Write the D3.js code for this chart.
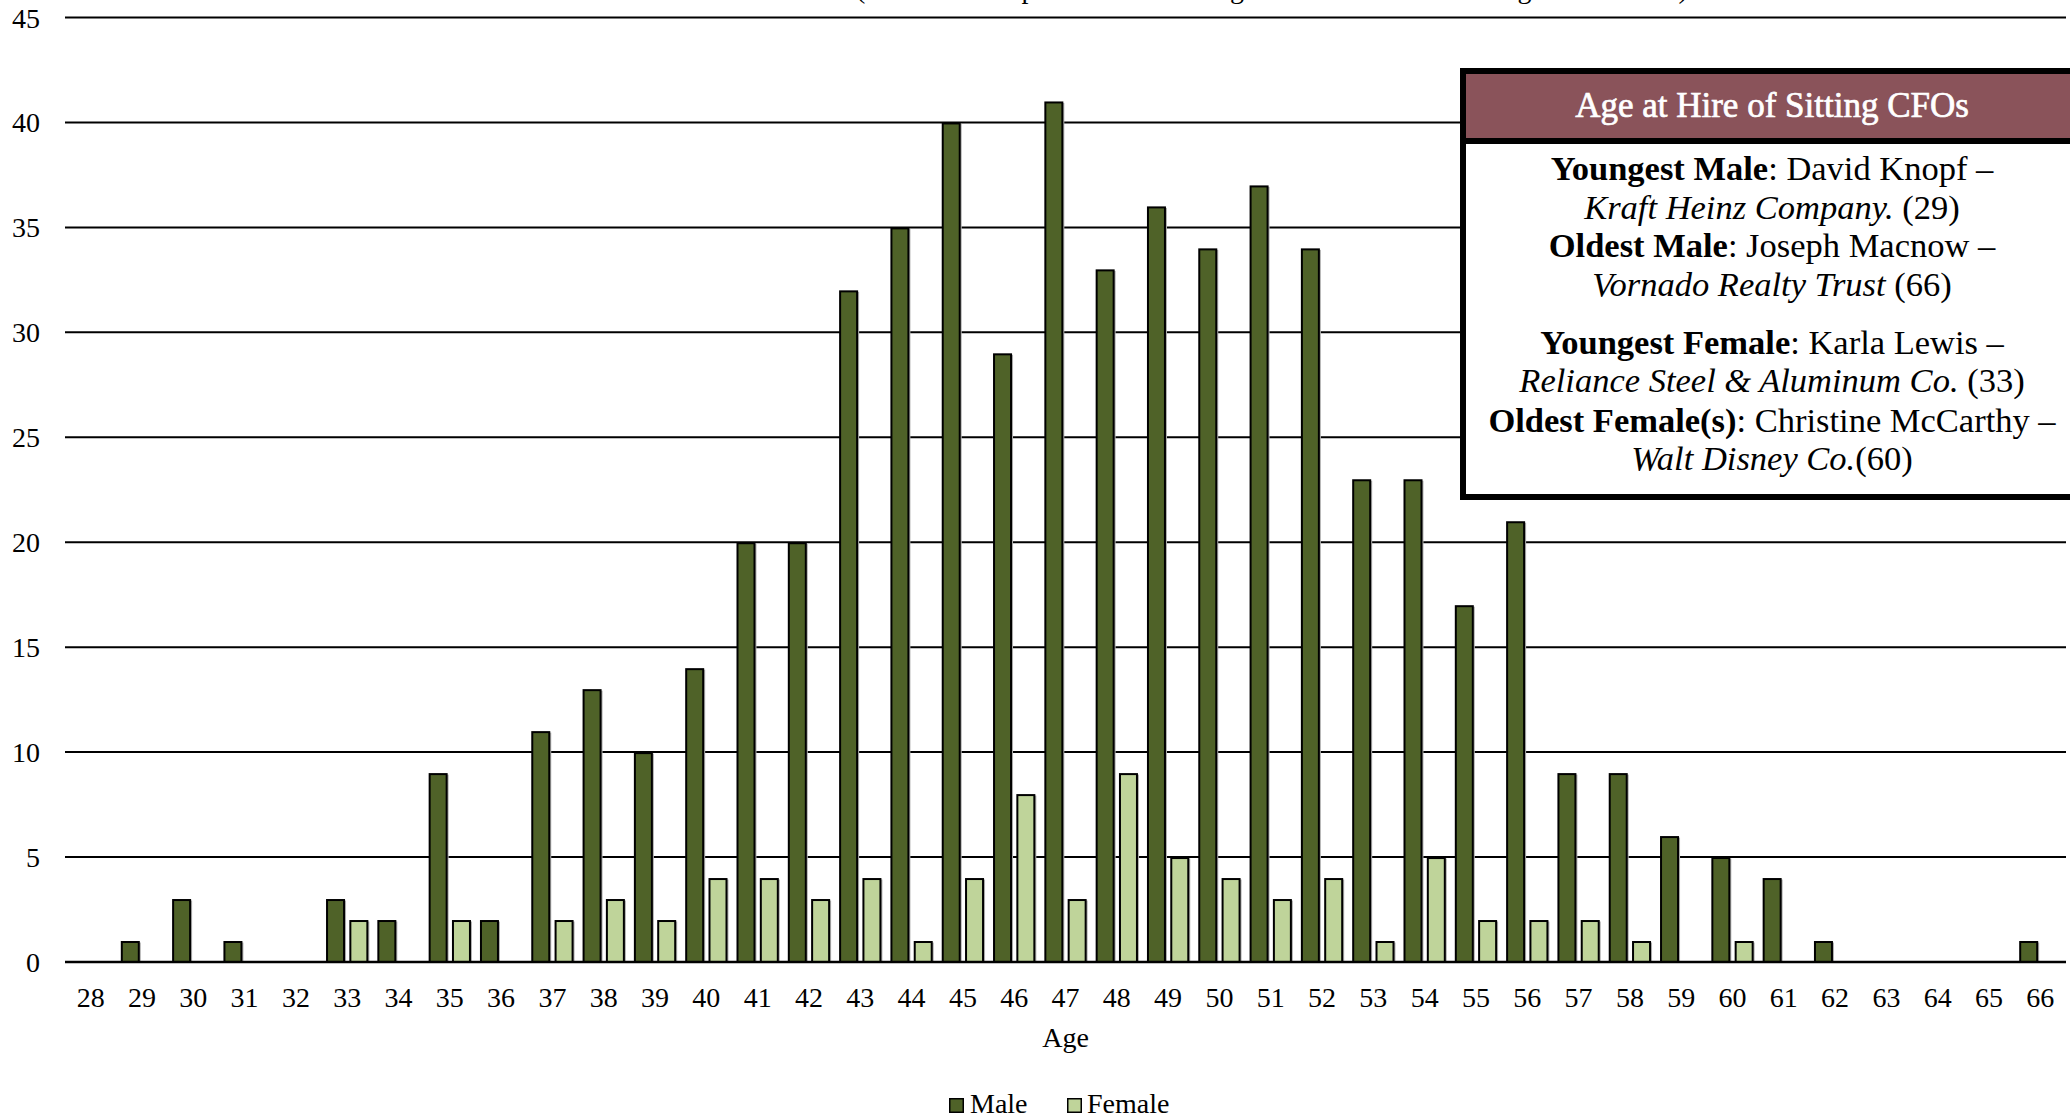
<!DOCTYPE html>
<html>
<head>
<meta charset="utf-8">
<script src="https://cdn.jsdelivr.net/npm/d3@7"></script>
<style>
  body { margin: 0; background: #fff; }
  svg { display: block; }
  text { font-family: "Liberation Serif", "Times New Roman", serif; fill: #000; }
</style>
</head>
<body>
<svg id="chart" width="2070" height="1120"></svg>
<script>
// Age at hire (x categories)
const ages = [28, 29, 30, 31, 32, 33, 34, 35, 36, 37, 38, 39, 40, 41, 42, 43, 44, 45, 46,
              47, 48, 49, 50, 51, 52, 53, 54, 55, 56, 57, 58, 59, 60, 61, 62, 63, 64, 65, 66];

// Number of sitting CFOs hired at each age
const maleCounts   = [0, 1, 3, 1, 0, 3, 2, 9, 2, 11, 13, 10, 14, 20, 20, 32, 35, 40, 29,
                      41, 33, 36, 34, 37, 34, 23, 23, 17, 21, 9, 9, 6, 5, 4, 1, 0, 0, 0, 1];
const femaleCounts = [0, 0, 0, 0, 0, 2, 0, 2, 0, 2, 3, 2, 4, 4, 3, 4, 1, 4, 8,
                      3, 9, 5, 4, 3, 4, 1, 5, 2, 2, 2, 1, 0, 1, 0, 0, 0, 0, 0, 0];

const seriesNames = ["Male", "Female"];
const seriesColors = ["#4f6228", "#bfd49a"];
const yTicks = [0, 5, 10, 15, 20, 25, 30, 35, 40, 45];
const xTitle = "Age";
const subtitle = "(S&P 500 companies. Based on age at the time the CFO began in the role)";

// Call-out box content
const boxTitle = "Age at Hire of Sitting CFOs";
const boxGroups = [
  [
    [{ t: "Youngest Male", b: true }, { t: ": David Knopf –" }],
    [{ t: "Kraft Heinz Company.", i: true }, { t: " (29)" }],
    [{ t: "Oldest Male", b: true }, { t: ": Joseph Macnow –" }],
    [{ t: "Vornado Realty Trust", i: true }, { t: " (66)" }]
  ],
  [
    [{ t: "Youngest Female", b: true }, { t: ": Karla Lewis –" }],
    [{ t: "Reliance Steel & Aluminum Co.", i: true }, { t: " (33)" }],
    [{ t: "Oldest Female(s)", b: true }, { t: ": Christine McCarthy –" }],
    [{ t: "Walt Disney Co.", i: true }, { t: "(60)" }]
  ]
];

const rows = ages.map((a, i) => ({ age: a, Male: maleCounts[i], Female: femaleCounts[i] }));

const svg = d3.select("#chart");
const plot = { left: 65, right: 2066, top: 17.5, bottom: 962 };

const x = d3.scaleBand().domain(ages).range([plot.left, plot.right]).paddingInner(0).paddingOuter(0);
const x1 = d3.scaleBand().domain(seriesNames).range([0, x.bandwidth()])
  .paddingInner(0.185).paddingOuter(0.193);
const y = d3.scaleLinear().domain([0, 45]).range([plot.bottom, plot.top]);
const color = d3.scaleOrdinal().domain(seriesNames).range(seriesColors);

// Horizontal gridlines
svg.append("g")
  .selectAll("line")
  .data(yTicks.filter(t => t !== 0))
  .join("line")
  .attr("x1", plot.left).attr("x2", plot.right)
  .attr("y1", d => y(d)).attr("y2", d => y(d))
  .attr("stroke", "#000").attr("stroke-width", 2);

// Y axis labels
const yAxis = d3.axisLeft(y).tickValues(yTicks).tickSize(0).tickPadding(0);
svg.append("g")
  .attr("transform", "translate(40,0)")
  .call(yAxis)
  .call(g => g.select(".domain").remove())
  .call(g => g.selectAll("text")
    .attr("font-size", 28)
    .attr("font-family", "Liberation Serif, serif")
    .attr("fill", "#000")
    .attr("dy", "0.34em"));

// Bars
const groups = svg.append("g")
  .selectAll("g")
  .data(rows)
  .join("g")
  .attr("transform", d => `translate(${x(d.age)},0)`);

const barData = d => seriesNames.map(k => ({ key: k, value: d[k] })).filter(e => e.value > 0);

groups.selectAll("rect.shadow")
  .data(barData)
  .join("rect")
  .attr("class", "shadow")
  .attr("x", d => x1(d.key) + 2)
  .attr("y", d => y(d.value) + 1.5)
  .attr("width", x1.bandwidth() - 1)
  .attr("height", d => y(0) - y(d.value) - 1.5)
  .attr("fill", "#b0b0b0");

groups.selectAll("rect.bar")
  .data(barData)
  .join("rect")
  .attr("class", "bar")
  .attr("x", d => x1(d.key) + 1)
  .attr("y", d => y(d.value) + 1)
  .attr("width", x1.bandwidth() - 2)
  .attr("height", d => y(0) - y(d.value) - 1)
  .attr("fill", d => color(d.key))
  .attr("stroke", "#000")
  .attr("stroke-width", 2);

// Zero baseline
svg.append("line")
  .attr("x1", plot.left).attr("x2", plot.right)
  .attr("y1", y(0)).attr("y2", y(0))
  .attr("stroke", "#000").attr("stroke-width", 2.5);

// X axis labels
const xAxis = d3.axisBottom(x).tickSize(0).tickPadding(0);
svg.append("g")
  .attr("transform", `translate(0,${y(0)})`)
  .call(xAxis)
  .call(g => g.select(".domain").remove())
  .call(g => g.selectAll("text")
    .attr("font-size", 28)
    .attr("font-family", "Liberation Serif, serif")
    .attr("fill", "#000")
    .attr("dy", 0)
    .attr("y", 45));

// Axis title
svg.append("text")
  .attr("x", (plot.left + plot.right) / 2)
  .attr("y", 1047)
  .attr("text-anchor", "middle")
  .attr("font-size", 28)
  .text(xTitle);

// Subtitle (second title line, mostly above the top of the canvas)
svg.append("text")
  .attr("x", 1272)
  .attr("y", -2.5)
  .attr("text-anchor", "middle")
  .attr("font-size", 28)
  .text(subtitle);

// Legend
const legend = svg.append("g");
const legendItems = [{ key: "Male", sx: 949, tx: 970 }, { key: "Female", sx: 1067, tx: 1087 }];
legend.selectAll("rect")
  .data(legendItems)
  .join("rect")
  .attr("x", d => d.sx + 0.75).attr("y", 1098.75)
  .attr("width", 13.5).attr("height", 13.5)
  .attr("fill", d => color(d.key))
  .attr("stroke", "#000").attr("stroke-width", 1.5);
legend.selectAll("text")
  .data(legendItems)
  .join("text")
  .attr("x", d => d.tx).attr("y", 1113)
  .attr("font-size", 28)
  .text(d => d.key);

// Call-out box
const box = { left: 1463, top: 71, headerBottom: 141, bottom: 497, right: 2090, cx: 1772 };
const boxG = svg.append("g");
boxG.append("rect")
  .attr("x", box.left).attr("y", box.top)
  .attr("width", box.right - box.left).attr("height", box.bottom - box.top)
  .attr("fill", "#fff");
boxG.append("rect")
  .attr("x", box.left).attr("y", box.top)
  .attr("width", box.right - box.left).attr("height", box.headerBottom - box.top)
  .attr("fill", "#8a535a");
boxG.append("line")
  .attr("x1", box.left).attr("x2", box.right)
  .attr("y1", box.headerBottom).attr("y2", box.headerBottom)
  .attr("stroke", "#000").attr("stroke-width", 6);
boxG.append("rect")
  .attr("x", box.left).attr("y", box.top)
  .attr("width", box.right - box.left).attr("height", box.bottom - box.top)
  .attr("fill", "none")
  .attr("stroke", "#000").attr("stroke-width", 6);

boxG.append("text")
  .attr("x", box.cx).attr("y", 117)
  .attr("text-anchor", "middle")
  .attr("font-size", 35)
  .attr("stroke", "#fff").attr("stroke-width", 0.7)
  .style("fill", "#fff")
  .text(boxTitle);

const lineBaselines = [[180, 219, 257, 296], [354, 392, 432, 470]];
boxGroups.forEach((grp, gi) => {
  grp.forEach((segs, li) => {
    const t = boxG.append("text")
      .attr("x", box.cx).attr("y", lineBaselines[gi][li])
      .attr("text-anchor", "middle")
      .attr("font-size", 34.5);
    segs.forEach(s => {
      t.append("tspan")
        .attr("font-weight", s.b ? "bold" : "normal")
        .attr("font-style", s.i ? "italic" : "normal")
        .text(s.t);
    });
  });
});
</script>
</body>
</html>
